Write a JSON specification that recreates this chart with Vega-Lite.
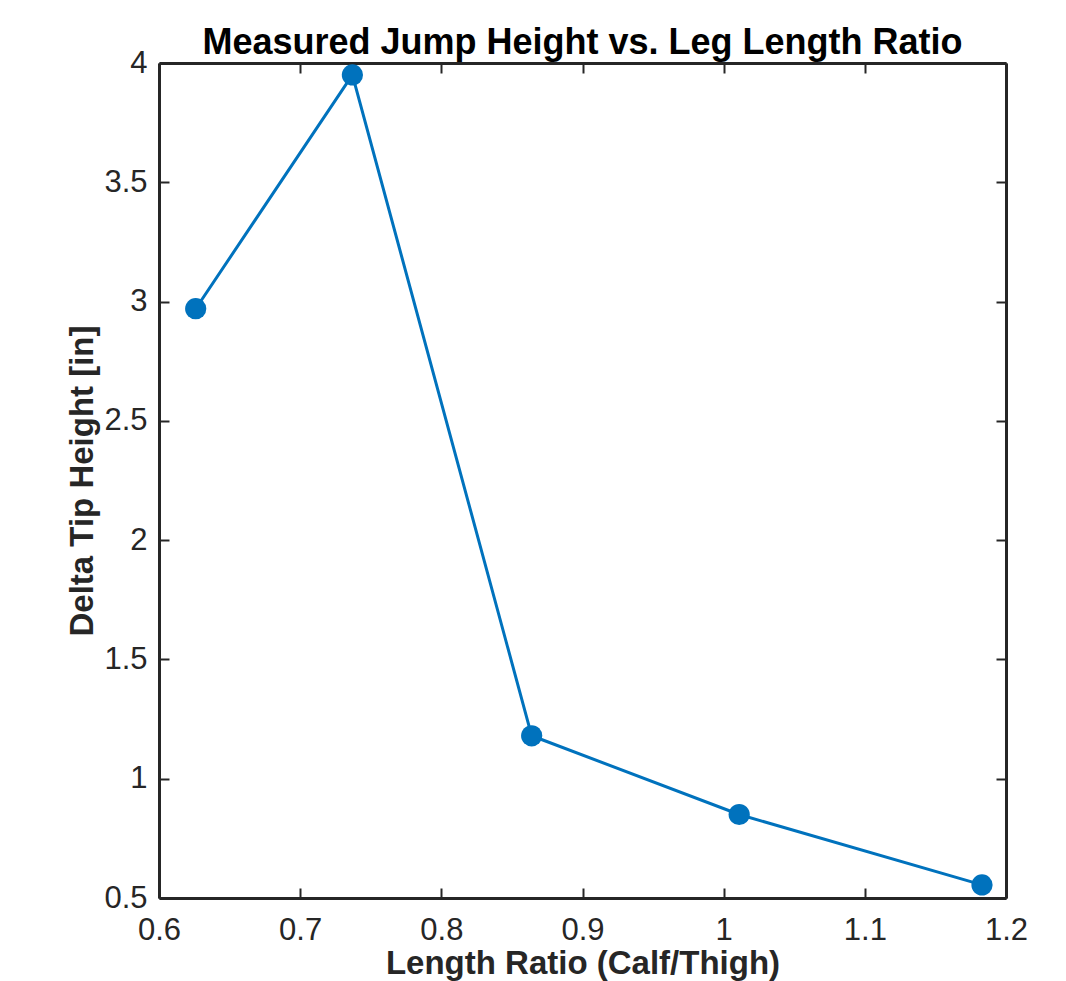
{
  "$schema": "https://vega.github.io/schema/vega-lite/v6.json",
  "width": 847,
  "height": 835,
  "autosize": "none",
  "padding": {"left": 159, "top": 63, "right": 60, "bottom": 83},
  "background": "white",
  "title": {"text": "Measured Jump Height vs. Leg Length Ratio", "font": "Liberation Sans", "fontSize": 36, "fontWeight": "bold", "color": "#000000", "offset": -15, "anchor": "middle"},
  "config": {"view": {"stroke": null}, "axis": {"grid": false, "domainColor": "#262626", "domainWidth": 3, "tickColor": "#262626", "tickWidth": 2, "tickSize": -10, "labelFont": "Liberation Sans", "labelFontSize": 31, "labelColor": "#262626", "titleFont": "Liberation Sans", "titleFontSize": 33, "titleFontWeight": "bold", "titleColor": "#262626"}},
  "data": {"values": [
    {"ratio": 0.626, "height": 2.97},
    {"ratio": 0.737, "height": 3.95},
    {"ratio": 0.864, "height": 1.18},
    {"ratio": 1.011, "height": 0.85},
    {"ratio": 1.183, "height": 0.555}
  ]},
  "layer": [
    {
      "mark": {"type": "line", "color": "#0072BD", "strokeWidth": 3},
      "encoding": {
        "x": {"field": "ratio", "type": "quantitative", "scale": {"domain": [0.6, 1.2], "nice": false, "zero": false}, "axis": {"orient": "bottom", "title": "Length Ratio (Calf/Thigh)", "values": [0.6, 0.7, 0.8, 0.9, 1, 1.1, 1.2], "format": "~g", "labelPadding": 27, "titlePadding": 2, "labelFlush": false}},
        "y": {"field": "height", "type": "quantitative", "scale": {"domain": [0.5, 4], "nice": false, "zero": false}, "axis": {"orient": "left", "title": "Delta Tip Height [in]", "values": [0.5, 1, 1.5, 2, 2.5, 3, 3.5, 4], "format": "~g", "labelPadding": 22, "titlePadding": 4, "labelFlush": false}}
      }
    },
    {
      "mark": {"type": "point", "filled": true, "color": "#0072BD", "size": 450, "opacity": 1},
      "encoding": {
        "x": {"field": "ratio", "type": "quantitative", "axis": {"orient": "top", "labels": false, "title": null, "values": [0.6, 0.7, 0.8, 0.9, 1, 1.1, 1.2]}},
        "y": {"field": "height", "type": "quantitative", "axis": {"orient": "right", "labels": false, "title": null, "values": [0.5, 1, 1.5, 2, 2.5, 3, 3.5, 4]}}
      }
    }
  ],
  "resolve": {"axis": {"x": "independent", "y": "independent"}}
}
